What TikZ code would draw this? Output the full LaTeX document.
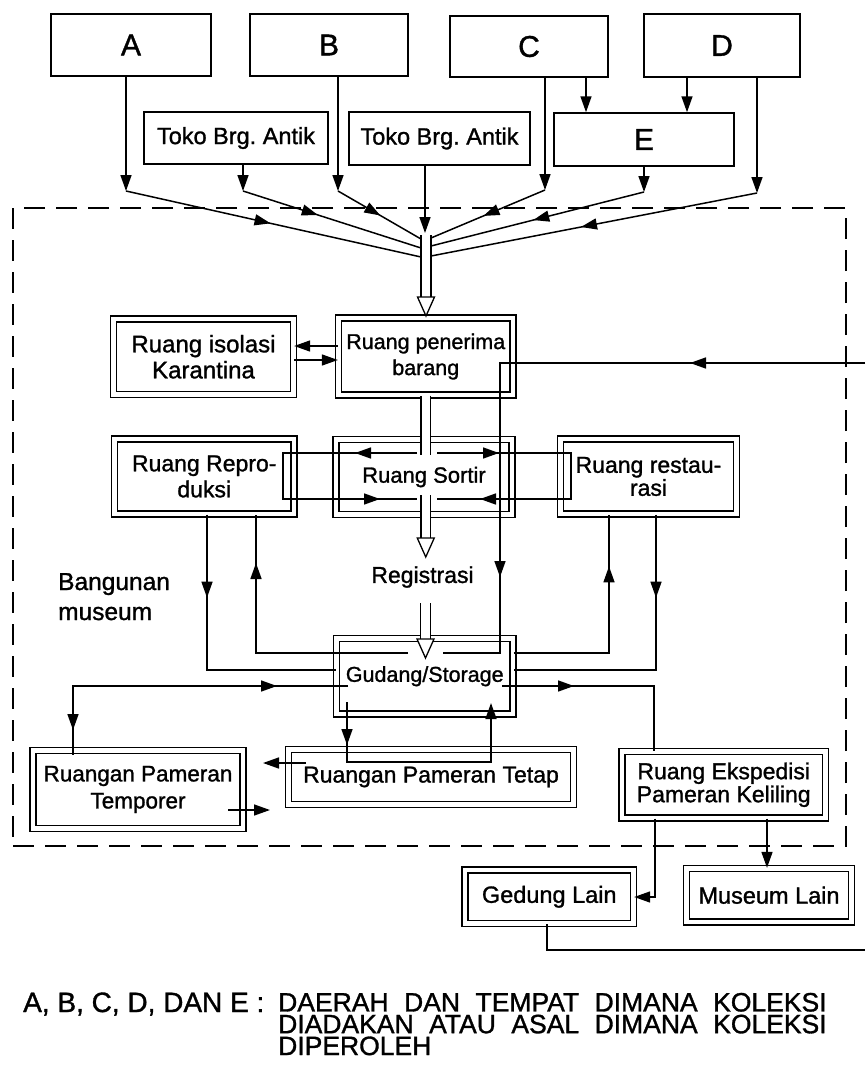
\documentclass[tikz,border=0pt]{standalone}
\usepackage{fontspec}
\setmainfont[FakeBold=1.2]{Liberation Sans}
\usetikzlibrary{arrows.meta,decorations.markings,calc}
\newcommand{\myhtip}[1]{\draw[line width=1.3pt, fill=white, line join=miter] ($(#1)+(-8.5,-19)$) -- ($(#1)+(8.5,-19)$) -- (#1) -- cycle;}
\newcommand{\capsp}{\spaceskip=15.5pt plus 2pt minus 1pt\relax}
\begin{document}
\frenchspacing
\begin{tikzpicture}[x=1pt,y=-1pt,
  >={Triangle[length=16pt,width=11pt]},
  sbox/.style={draw, line width=1.5pt, inner sep=0pt},
  dbox/.style={draw, line width=1.3pt, double, double distance=4.5pt, inner sep=0pt, align=center},
  big/.style={font=\fontsize{30pt}{30pt}\selectfont},
  lbl/.style={font=\fontsize{#1pt}{26pt}\selectfont},
  conn/.style={line width=1.5pt},
  arr/.style={conn, ->},
  shaft/.style={line width=1.3pt, double, double distance=8.5pt},
  am/.style={postaction={decorate, decoration={markings, mark=at position #1 with {\arrow{>}}}}},
  rm/.style={postaction={decorate, decoration={markings, mark=at position #1 with {\arrowreversed{>}}}}}
]
\fill[white] (0,0) rectangle (865,1065);
\useasboundingbox (0,0) rectangle (865,1065);

% building frame
\node[draw, line width=1.8pt, dash pattern=on 21pt off 11pt, minimum width=833pt, minimum height=638pt, inner sep=0pt] (bldg) at (429.5,527) {};

% top sources
\node[sbox, big, minimum width=160pt, minimum height=62pt] (A) at (131,45) {A};
\node[sbox, big, minimum width=158pt, minimum height=62pt] (B) at (329,45) {B};
\node[sbox, big, minimum width=158pt, minimum height=61pt] (C) at (529,46.5) {C};
\node[sbox, big, minimum width=156pt, minimum height=63pt] (D) at (722,45.5) {D};
\node[sbox, lbl=23.5, minimum width=184pt, minimum height=52pt] (T1) at (236,138) {Toko Brg. Antik};
\node[sbox, lbl=23.5, minimum width=181pt, minimum height=53pt] (T2) at (439.5,138.5) {Toko Brg. Antik};
\node[sbox, big, minimum width=180pt, minimum height=53pt] (E) at (644,139.5) {E};

% rooms
\node[dbox, lbl=24, minimum width=180pt, minimum height=75.5pt] (iso) at (203.5,356.75) {Ruang isolasi\\Karantina};
\node[dbox, lbl=21.5, minimum width=174.5pt, minimum height=77pt] (pen) at (425.75,356.5) {Ruang penerima\\barang};
\node[dbox, lbl=23, minimum width=179.5pt, minimum height=75pt] (rep) at (204.25,476.5) {Ruang Repro-\\duksi};
\node[dbox, lbl=22, minimum width=176pt, minimum height=75pt] (sort) at (424,477) {Ruang Sortir};
\node[dbox, font=\fontsize{23pt}{23pt}\selectfont, minimum width=176pt, minimum height=75pt] (res) at (648.5,476.5) {Ruang restau-\\rasi};
\node[dbox, lbl=21.5, minimum width=176.5pt, minimum height=75.5pt] (gud) at (424.75,676.25) {Gudang/Storage};
\node[dbox, font=\fontsize{22.5pt}{27pt}\selectfont, minimum width=210pt, minimum height=78pt] (temp) at (138,789.5) {Ruangan Pameran\\Temporer};
\node[dbox, lbl=23, minimum width=285pt, minimum height=55pt] (tet) at (431,777) {Ruangan Pameran Tetap};
\node[dbox, font=\fontsize{23pt}{23pt}\selectfont, minimum width=203.5pt, minimum height=66.5pt] (eksp) at (723.75,784.75) {Ruang Ekspedisi\\Pameran Keliling};
\node[dbox, lbl=23.5, minimum width=168.5pt, minimum height=53.5pt] (ged) at (549.25,896.75) {Gedung Lain};
\node[dbox, lbl=23.5, minimum width=165pt, minimum height=53.5pt] (mus) at (769,895.25) {Museum Lain};

% texts
\node[lbl=23, inner sep=0pt] (reg) at (422.5,577) {Registrasi};
\node[font=\fontsize{24.5pt}{30pt}\selectfont, anchor=base west, align=left, inner sep=0pt] (bang) at (58,620) {Bangunan\\museum};
\node[font=\fontsize{28pt}{21.5pt}\selectfont, anchor=base west, inner sep=0pt] (capL) at (23,1012) {A, B, C, D, DAN E :};
\node[font={\fontsize{26.5pt}{21.8pt}\selectfont\capsp}, anchor=base west, align=left, inner sep=0pt] (capR) at (278,1055) {DAERAH DAN TEMPAT DIMANA KOLEKSI\\DIADAKAN ATAU ASAL DIMANA KOLEKSI\\DIPEROLEH};

% coordinates top
\coordinate (bA) at (126,191);
\coordinate (bT1) at (243,191);
\coordinate (bB) at (338,191);
\coordinate (bC) at (545,190);
\coordinate (bE) at (644,192);
\coordinate (bD) at (757,193);
\coordinate (xCE) at (586,0);
\coordinate (xDE) at (687,0);
\coordinate (mA) at (421,257);
\coordinate (mT1) at (421,248);
\coordinate (mB) at (421,239);
\coordinate (mC) at (431,238);
\coordinate (mE) at (431,246);
\coordinate (mD) at (431,256);
\coordinate (t2e) at (425,233);
\coordinate (sh0) at (426,235);
\coordinate (sh1) at (426,297);
\coordinate (tipP) at (426,316);

\draw[arr] (A.south -| bA) -- (bA);
\draw[arr] (T1.south -| bT1) -- (bT1);
\draw[arr] (B.south -| bB) -- (bB);
\draw[arr] (C.south -| bC) -- (bC);
\draw[arr] (E.south -| bE) -- (bE);
\draw[arr] (D.south -| bD) -- (bD);
\draw[arr] (C.south -| xCE) -- (E.north -| xCE);
\draw[arr] (D.south -| xDE) -- (E.north -| xDE);
\draw[arr] (T2.south -| t2e) -- (t2e);
\draw[conn, am=0.49] (bA) -- (mA);
\draw[conn, am=0.42] (bT1) -- (mT1);
\draw[conn, am=0.51] (bB) -- (mB);
\draw[conn, am=0.54] (bC) -- (mC);
\draw[conn, am=0.52] (bE) -- (mE);
\draw[conn, am=0.54] (bD) -- (mD);
\draw[shaft] (sh0) -- (sh1);
\myhtip{tipP}

% isolasi <-> penerima
\coordinate (y346) at (0,346);
\coordinate (y360) at (0,360);
\draw[arr] (pen.west |- y346) -- (iso.east |- y346);
\draw[arr] (iso.east |- y360) -- (pen.west |- y360);

% sortir exchanges
\coordinate (sL0) at (417,453);
\coordinate (sL1) at (283,453);
\coordinate (sL2) at (283,499);
\coordinate (sL3) at (417,499);
\coordinate (sR0) at (437,453);
\coordinate (sR1) at (571,453);
\coordinate (sR2) at (571,499);
\coordinate (sR3) at (437,499);
\draw[conn, am=62pt, am=277pt] (sL0) -- (sL1) -- (sL2) -- (sL3);
\draw[conn, am=62pt, am=271pt] (sR0) -- (sR1) -- (sR2) -- (sR3);

% penerima -> sortir -> registrasi -> gudang
\coordinate (ps1) at (425.75,455);
\coordinate (ps2) at (425.75,495);
\coordinate (ps3) at (425.75,539);
\coordinate (pstip) at (425.75,557);
\draw[shaft] (pen.south) -- (ps1);
\draw[shaft] (ps2) -- (ps3);
\myhtip{pstip}
\coordinate (rs0) at (425.5,603);
\coordinate (rs1) at (425.5,640);
\coordinate (rstip) at (425.5,658);
\draw[shaft] (rs0) -- (rs1);
\myhtip{rstip}

% line from outside into penerima and down to gudang
\coordinate (rin) at (865,363);
\coordinate (p1) at (500,363);
\coordinate (p2) at (500,653);
\coordinate (p3) at (443,653);
\draw[conn, am=175pt, am=579pt] (rin) -- (p1) -- (p2) -- (p3);

% reproduksi <-> gudang
\coordinate (r1) at (207,670);
\draw[conn, am=83pt] (rep.south -| r1) -- (r1) -- (gud.west |- r1);
\coordinate (g1) at (408,653);
\coordinate (r2) at (256,653);
\draw[conn, am=242pt] (g1) -- (r2) -- (rep.south -| r2);

% restaurasi <-> gudang
\coordinate (q1) at (609,653);
\draw[conn, am=182pt] (gud.east |- q1) -- (q1) -- (res.south -| q1);
\coordinate (q2) at (656,670);
\draw[conn, am=83pt] (res.south -| q2) -- (q2) -- (gud.east |- q2);

% gudang -> temporer
\coordinate (g2) at (348,686);
\coordinate (t1) at (73,686);
\coordinate (t2) at (73,755);
\draw[conn, rm=71pt, am=319pt] (g2) -- (t1) -- (t2);

% gudang -> ekspedisi
\coordinate (g3) at (502,686);
\coordinate (e1) at (654,686);
\draw[conn, am=72pt] (g3) -- (e1) -- (eksp.north -| e1);

% gudang <-> tetap
\coordinate (g4) at (347,702);
\coordinate (k1) at (347,762);
\coordinate (k2) at (491,762);
\coordinate (g5) at (491,703);
\draw[conn, ->, am=43pt] (g4) -- (k1) -- (k2) -- (g5);

% tetap <-> temporer
\coordinate (k3) at (306,763);
\coordinate (k4) at (263,763);
\draw[arr] (k3) -- (k4);
\coordinate (k5) at (228,810);
\coordinate (k6) at (270,810);
\draw[arr] (k5) -- (k6);

% ekspedisi -> gedung / museum
\coordinate (x1) at (655,897);
\draw[arr] (eksp.south -| x1) -- (x1) -- (ged.east |- x1);
\coordinate (x2) at (767,0);
\draw[arr] (eksp.south -| x2) -- (mus.north -| x2);
\coordinate (x3) at (547,950);
\coordinate (rout) at (865,950);
\draw[conn] (ged.south -| x3) -- (x3) -- (rout);
\end{tikzpicture}
\end{document}
